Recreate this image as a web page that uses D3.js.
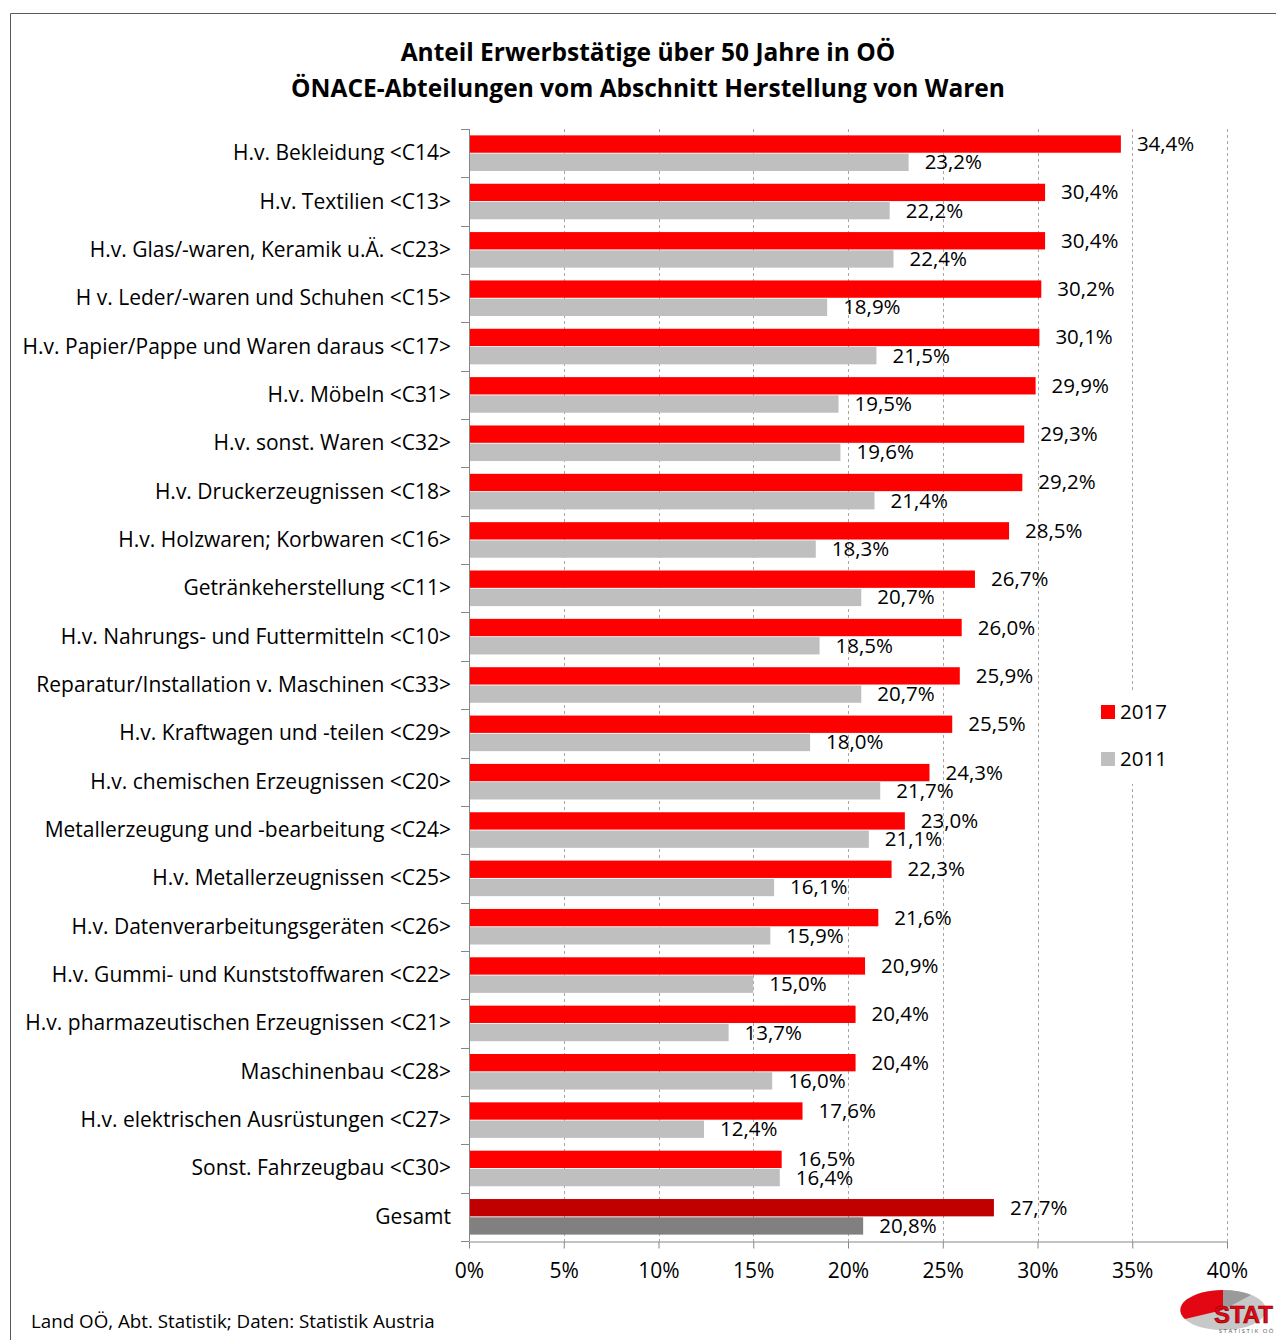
<!DOCTYPE html>
<html>
<head>
<meta charset="utf-8">
<script src="https://cdn.jsdelivr.net/npm/d3@7"></script>
<style>
  body { margin: 0; background: #fff; }
  text { font-family: "Open Sans", "Noto Sans", sans-serif; fill: #000; }
</style>
</head>
<body>
<script>
// Data
const categories = [
  "H.v. Bekleidung <C14>",
  "H.v. Textilien <C13>",
  "H.v. Glas/-waren, Keramik u.Ä. <C23>",
  "H v. Leder/-waren und Schuhen <C15>",
  "H.v. Papier/Pappe und Waren daraus <C17>",
  "H.v. Möbeln <C31>",
  "H.v. sonst. Waren <C32>",
  "H.v. Druckerzeugnissen <C18>",
  "H.v. Holzwaren; Korbwaren <C16>",
  "Getränkeherstellung <C11>",
  "H.v. Nahrungs- und Futtermitteln <C10>",
  "Reparatur/Installation v. Maschinen <C33>",
  "H.v. Kraftwagen und -teilen <C29>",
  "H.v. chemischen Erzeugnissen <C20>",
  "Metallerzeugung und -bearbeitung <C24>",
  "H.v. Metallerzeugnissen <C25>",
  "H.v. Datenverarbeitungsgeräten <C26>",
  "H.v. Gummi- und Kunststoffwaren <C22>",
  "H.v. pharmazeutischen Erzeugnissen <C21>",
  "Maschinenbau <C28>",
  "H.v. elektrischen Ausrüstungen <C27>",
  "Sonst. Fahrzeugbau <C30>",
  "Gesamt"
]
const values2017 = [34.4, 30.4, 30.4, 30.2, 30.1, 29.9, 29.3, 29.2, 28.5, 26.7, 26.0, 25.9, 25.5, 24.3, 23.0, 22.3, 21.6, 20.9, 20.4, 20.4, 17.6, 16.5, 27.7]
const values2011 = [23.2, 22.2, 22.4, 18.9, 21.5, 19.5, 19.6, 21.4, 18.3, 20.7, 18.5, 20.7, 18.0, 21.7, 21.1, 16.1, 15.9, 15.0, 13.7, 16.0, 12.4, 16.4, 20.8]
const seriesNames = ["2017", "2011"]
const xTicks = [0, 5, 10, 15, 20, 25, 30, 35, 40]

const titleLines = ["Anteil Erwerbstätige über 50 Jahre in OÖ", "ÖNACE-Abteilungen vom Abschnitt Herstellung von Waren"]
const source = "Land OÖ, Abt. Statistik; Daten: Statistik Austria"

const width = 1276
const height = 1340
const plot = {left: 469, right: 1227, top: 129, bottom: 1241}

const colors = {"2017": "#ff0000", "2011": "#bfbfbf"}
const totalColors = {"2017": "#c00000", "2011": "#808080"}

const de = d3.formatLocale({decimal: ",", thousands: ".", grouping: [3], currency: ["", " €"], percent: "%"})
const fmtVal = de.format(".1%")

const svg = d3.select("body").append("svg")
  .attr("width", width)
  .attr("height", height)

// Frame
svg.append("path")
  .attr("d", `M10.5,${height} V13.5 H${width}`)
  .attr("fill", "none")
  .attr("stroke", "#595959")
  .attr("stroke-width", 1)

// Title
svg.append("g").selectAll("text")
  .data(titleLines)
  .join("text")
    .attr("x", 648)
    .attr("y", (d, i) => 61 + i * 36)
    .attr("text-anchor", "middle")
    .style("font-size", "24.5px")
    .style("font-weight", "bold")
    .text(d => d)

// Scales
const x = d3.scaleLinear().domain([0, 40]).range([plot.left, plot.right])
const y = d3.scaleBand().domain(categories).range([plot.top, plot.bottom]).padding(0)
const ySub = d3.scaleBand().domain(seriesNames).range([0, y.bandwidth()])
  .paddingInner(0.05).paddingOuter(0.35)

// Gridlines
svg.append("g").selectAll("line")
  .data(xTicks.slice(1))
  .join("line")
    .attr("x1", d => Math.round(x(d)) + 0.5)
    .attr("x2", d => Math.round(x(d)) + 0.5)
    .attr("y1", plot.top)
    .attr("y2", plot.bottom)
    .attr("stroke", "#a6a6a6")
    .attr("stroke-dasharray", "3,3")

// Bars
const rows = categories.map((c, i) => ({cat: c, total: c === "Gesamt", vals: [values2017[i], values2011[i]]}))

const groups = svg.append("g").selectAll("g")
  .data(rows)
  .join("g")
    .attr("transform", d => `translate(0,${y(d.cat)})`)

groups.selectAll("rect")
  .data(d => seriesNames.map((s, j) => ({s: s, v: d.vals[j], total: d.total})))
  .join("rect")
    .attr("x", x(0))
    .attr("y", d => ySub(d.s))
    .attr("width", d => x(d.v) - x(0))
    .attr("height", ySub.bandwidth())
    .attr("fill", d => d.total ? totalColors[d.s] : colors[d.s])

groups.selectAll("text")
  .data(d => seriesNames.map((s, j) => ({s: s, v: d.vals[j]})))
  .join("text")
    .attr("x", d => x(d.v) + 16)
    .attr("y", d => ySub(d.s) + ySub.bandwidth() / 2 + 7)
    .style("font-size", "20.5px")
    .text(d => fmtVal(d.v / 100))

// Y axis
const yAxis = svg.append("g")
yAxis.append("line")
  .attr("x1", plot.left + 0.5).attr("x2", plot.left + 0.5)
  .attr("y1", plot.top).attr("y2", plot.bottom)
  .attr("stroke", "#868686")
yAxis.selectAll("line.tick")
  .data(categories.map(c => y(c)).concat([plot.bottom]))
  .join("line")
    .attr("class", "tick")
    .attr("x1", plot.left - 8).attr("x2", plot.left)
    .attr("y1", d => Math.round(d) + 0.5)
    .attr("y2", d => Math.round(d) + 0.5)
    .attr("stroke", "#868686")
yAxis.selectAll("text")
  .data(categories)
  .join("text")
    .attr("x", 451)
    .attr("y", d => y(d) + y.bandwidth() / 2 + 7)
    .attr("text-anchor", "end")
    .style("font-size", "21px")
    .text(d => d)

// X axis
const xAxis = svg.append("g")
  .attr("transform", `translate(0,${plot.bottom + 0.5})`)
  .call(d3.axisBottom(x).tickValues(xTicks).tickSize(7).tickSizeOuter(0).tickFormat(d => d + "%"))
xAxis.select(".domain").attr("stroke", "#868686")
xAxis.selectAll(".tick line").attr("stroke", "#868686")
xAxis.selectAll(".tick text")
  .attr("y", 22)
  .attr("dy", "0.71em")
  .style("font-size", "21px")
  .style("font-family", "'Open Sans', 'Noto Sans', sans-serif")
  .attr("fill", "#000")

// Legend
const legend = svg.append("g")
legend.append("rect")
  .attr("x", 1094).attr("y", 692)
  .attr("width", 80).attr("height", 92)
  .attr("fill", "#fff")
legend.selectAll("rect.key")
  .data(seriesNames)
  .join("rect")
    .attr("class", "key")
    .attr("x", 1101)
    .attr("y", (d, i) => 705 + i * 47)
    .attr("width", 14).attr("height", 14)
    .attr("fill", d => colors[d])
legend.selectAll("text")
  .data(seriesNames)
  .join("text")
    .attr("x", 1120)
    .attr("y", (d, i) => 719 + i * 47)
    .style("font-size", "20.5px")
    .text(d => d)

// Source
svg.append("text")
  .attr("x", 31).attr("y", 1328)
  .style("font-size", "18.75px")
  .text(source)

// Logo
const logo = svg.append("g").attr("transform", "translate(1223,1310)")
logo.append("ellipse").attr("rx", 43).attr("ry", 20).attr("fill", "#c8c8c8")
logo.append("path")
  .attr("d", "M0,-20 A43,20 0 0,0 -38,9 L0,0 Z")
  .attr("fill", "#e30613")
logo.append("path")
  .attr("d", "M0,-20 A43,20 0 0,1 28,-15 L0,0 Z")
  .attr("fill", "#9a9a9a")
logo.append("text")
  .attr("x", 50).attr("y", 13)
  .attr("text-anchor", "end")
  .style("font-family", "'Liberation Sans', Arial, sans-serif")
  .style("font-size", "24px")
  .style("font-weight", "bold")
  .style("fill", "#e30613")
  .style("stroke", "#7a0000")
  .style("stroke-width", 0.6)
  .text("STAT")
logo.append("text")
  .attr("x", 52).attr("y", 23)
  .attr("text-anchor", "end")
  .style("font-size", "6px")
  .style("letter-spacing", "1.5px")
  .style("fill", "#555")
  .text("STATISTIK OÖ")
</script>
</body>
</html>
